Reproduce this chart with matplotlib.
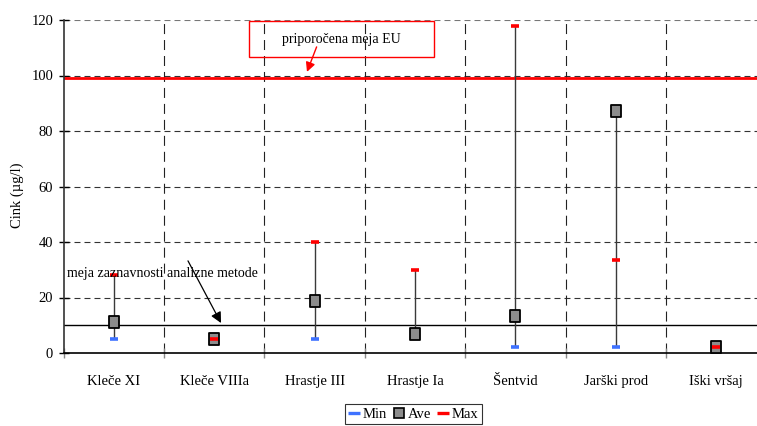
import matplotlib
matplotlib.use("Agg")
import matplotlib.pyplot as plt
from matplotlib.lines import Line2D
from matplotlib.patches import Rectangle
from matplotlib.path import Path

plt.rcParams['font.family'] = ['Liberation Serif', 'DejaVu Serif']
plt.rcParams['font.size'] = 10
plt.rcParams['lines.scale_dashes'] = False

# Zinc concentrations per sampling site (µg/l)
sites = ["Kleče XI", "Kleče VIIIa", "Hrastje III", "Hrastje Ia", "Šentvid", "Jarški prod", "Iški vršaj"]
zn_min = [5, 4.5, 5, 6, 2, 2, 2]
zn_ave = [11.3, 5, 18.7, 6.8, 13.3, 87.2, 2.2]
zn_max = [28, 5, 40, 30, 118, 33.5, 2.2]

eu_limit = 99
detection_limit = 10
yticks = [0, 20, 40, 60, 80, 100, 120]

blue = "#3f72ff"
red = "#ff0000"
box_grey = "#8c8c8c"

fig = plt.figure(figsize=(7.57, 4.26), dpi=100)
ax = fig.add_axes([63.6 / 757, 73 / 426, 702.8 / 757, 333 / 426])

n = len(sites)
xc = [i + 0.5 for i in range(n)]

ax.set_xlim(0, n)
ax.set_ylim(0, 120)

# grid
for y in yticks[1:]:
    ax.axhline(y, color="#333333" if y < 120 else "#777777", lw=0.8,
               linestyle=(0, (4.3, 2.9)), zorder=1)
for x in range(1, n):
    ax.axvline(x, color="#222222", lw=0.8, linestyle=(0, (7.2, 4.3)), zorder=1)

# reference lines
ax.axhline(eu_limit, color=red, lw=2, zorder=2)
ax.axhline(detection_limit, color="black", lw=1, zorder=2)

# high-low lines
for x, a, b, c in zip(xc, zn_min, zn_ave, zn_max):
    lo = min(a, b, c)
    hi = max(a, b, c)
    ax.vlines(x, lo, hi, color="#3a3a3a", lw=1, zorder=3)

rect_marker = Path([(-0.85, -1), (0.85, -1), (0.85, 1), (-0.85, 1), (-0.85, -1)],
                   [Path.MOVETO, Path.LINETO, Path.LINETO, Path.LINETO, Path.CLOSEPOLY])

ax.plot(xc, zn_min, ls="none", marker="_", ms=5.8, mew=2.6, color=blue, zorder=4)
ax.plot(xc, zn_ave, ls="none", marker=rect_marker, ms=8.5, mfc=box_grey, mec="black",
        mew=1.3, zorder=5)
ax.plot(xc, zn_max, ls="none", marker="_", ms=5.8, mew=2.6, color=red, zorder=6)

# axes styling
for s in ["top", "right"]:
    ax.spines[s].set_visible(False)
ax.spines["left"].set_color("#333333")
ax.spines["left"].set_linewidth(1.2)
ax.spines["bottom"].set_color("black")
ax.spines["bottom"].set_linewidth(1.2)

ax.set_yticks(yticks)
ax.tick_params(axis="y", direction="inout", length=7, width=1, pad=4, labelsize=10.5)

ax.set_xticks(range(n + 1))
ax.set_xticklabels([])
ax.tick_params(axis="x", which="major", direction="inout", length=7, width=1, color="#888888")
ax.set_xticks(xc, minor=True)
ax.set_xticklabels(sites, minor=True)
ax.tick_params(axis="x", which="minor", length=0, pad=16, labelsize=10.5)

ax.set_ylabel("Cink (µg/l)", fontsize=10.5)
ax.yaxis.set_label_coords(-0.057, 0.475)

# EU limit annotation
ax.add_patch(Rectangle((1.846, 106.7), 1.843, 12.9, fill=False, edgecolor=red, lw=1,
                       clip_on=False, zorder=7))
ax.text(2.768, 112.8, "priporočena meja EU", ha="center", va="center", fontsize=10, zorder=8)
ax.annotate("", xy=(2.424, 101.3), xytext=(2.52, 110.3),
            arrowprops=dict(arrowstyle="-|>", color=red, lw=1, mutation_scale=14,
                            shrinkA=0, shrinkB=0), zorder=8)

# detection limit annotation
ax.text(0.034, 28.5, "meja zaznavnosti analizne metode", ha="left", va="center",
        fontsize=10, zorder=8)
ax.annotate("", xy=(1.568, 10.8), xytext=(1.239, 33.2),
            arrowprops=dict(arrowstyle="-|>", color="black", lw=0.9, mutation_scale=16,
                            shrinkA=0, shrinkB=0), zorder=8)

# legend
handles = [
    Line2D([], [], ls="none", marker="_", ms=8, mew=2.4, color=blue),
    Line2D([], [], ls="none", marker="s", ms=7, mfc=box_grey, mec="black", mew=1.2),
    Line2D([], [], ls="none", marker="_", ms=8, mew=2.4, color=red),
]
leg = fig.legend(handles, ["Min", "Ave", "Max"], loc="center", ncol=3,
                 bbox_to_anchor=(413.5 / 757, 12 / 426), frameon=True, fancybox=False,
                 edgecolor="black", handlelength=0.7, handletextpad=0.25,
                 columnspacing=0.45, borderpad=0.25, borderaxespad=0, fontsize=10.5)
leg.get_frame().set_linewidth(0.8)

fig.savefig("out.png", dpi=100)
